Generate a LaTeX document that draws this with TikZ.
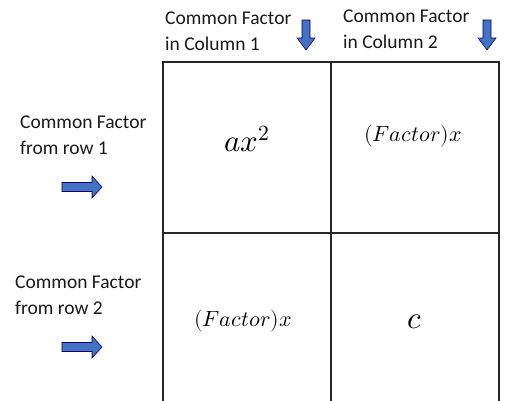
\documentclass[tikz,border=0pt]{standalone}
\usepackage{fontspec}
\usepackage{unicode-math}
\setmainfont{Carlito}
\setmathfont{Latin Modern Math}
\begin{document}
\begin{tikzpicture}[x=1pt,y=-1pt,
  lbl/.style={inner sep=0pt,align=left,anchor=north west,font=\fontsize{19.5}{25.5}\selectfont,text=black!90},
  grid/.style={draw=black!85,line width=1.8pt},
  barrow/.style={draw=blue!40!black,line width=0.6pt,fill=arrowblue},
  cellm/.style={inner sep=0pt}]
\definecolor{arrowblue}{HTML}{4472C4}
\useasboundingbox (0,0) rectangle (505,400);
% grid
\draw[grid] (163,410) -- (163,62) -- (499,62) -- (499,410);
\draw[grid] (331,62) -- (331,410);
\draw[grid] (163,233) -- (499,233);
% labels
\node[lbl] (c1) at (165,12) {Common Factor\\in Column 1};
\node[lbl] (c2) at (343,10) {Common Factor\\in Column 2};
\node[lbl] (r1) at (20,116) {Common Factor\\from row 1};
\node[lbl] (r2) at (15,276) {Common Factor\\from row 2};
% cell contents
\node[cellm,font=\fontsize{31}{34}\selectfont] (a) at (247,139) {$ax^2$};
\node[cellm,font=\fontsize{22}{25}\selectfont] (b) at (413,136) {$(Factor)x$};
\node[cellm,font=\fontsize{22}{25}\selectfont] (d) at (243,321) {$(Factor)x$};
\node[cellm,font=\fontsize{31}{34}\selectfont] (e) at (415,322) {$c$};
% down arrows
\foreach \cx in {306,487}{
  \draw[barrow] (\cx-4,20) -- (\cx+4,20) -- (\cx+4,38) -- (\cx+9,38) -- (\cx,50) -- (\cx-9,38) -- (\cx-4,38) -- cycle;
}
% right arrows
\foreach \cy in {187,347}{
  \draw[barrow] (62,\cy-4.5) -- (92,\cy-4.5) -- (92,\cy-11) -- (102,\cy) -- (92,\cy+11) -- (92,\cy+4.5) -- (62,\cy+4.5) -- cycle;
}
\end{tikzpicture}
\end{document}
